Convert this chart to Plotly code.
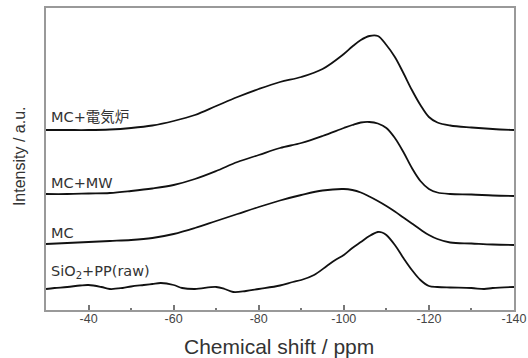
import plotly.graph_objects as go

# Chemical shift grid (ppm) for the three upper spectra
ppm = [-30, -35, -40, -45, -50, -55, -60, -65, -70, -75, -80, -85, -90, -95, -100,
       -102, -104, -106, -108, -110, -112, -114, -116, -118, -120, -122, -125, -130, -135, -140]

# stacked intensities (a.u., offsets included)
mc_furnace = [180, 180, 180, 180.5, 182, 184.5, 189, 195, 204, 213, 221, 228, 233, 241, 256,
              263.5, 270, 274, 274, 265, 253, 237, 220, 205, 193, 187.5, 184.5, 182.5, 181, 180]
mc_mw = [116, 116, 116.5, 117, 119, 121.5, 125, 131, 139, 148, 155, 162, 167, 174, 182,
         185, 187.5, 188, 186.5, 182, 172, 158, 142, 129, 121, 117.5, 116, 115.5, 114.5, 114]
mc = [66, 67, 68, 69, 70, 72, 76, 82, 89, 96, 103, 109.5, 115, 119.5, 121,
      120, 117.5, 113.5, 109, 104, 98.5, 92.5, 86.5, 80.5, 75, 71, 67.5, 66.5, 65.5, 65]

ppm_raw = [-30, -32, -35, -38, -40, -43, -45, -48, -50, -53, -55, -57, -60, -62, -65, -70, -72,
           -74, -77, -80, -85, -88, -90, -93, -96, -98, -100, -102, -104, -106, -108, -109,
           -110, -112, -114, -116, -118, -120, -122, -125, -130, -133, -135, -140]
raw = [21, 22, 23, 24.5, 25, 23, 21, 22, 23.5, 25, 26, 27, 25, 22, 21, 23, 21,
       18, 19, 21, 24.5, 28, 30, 35, 44, 50, 55, 62, 68, 74, 78, 77.5,
       75, 65, 52, 40, 30, 24, 23, 22.5, 22, 21, 22, 23]

labels = ["MC+電気炉", "MC+MW", "MC", "SiO<sub>2</sub>+PP(raw)"]
label_y = [193, 127, 77, 38]

tickvals = [-40, -60, -80, -100, -120, -140]
minor_vals = [-50, -70, -90, -110, -130]

fig = go.Figure()
for xs, ys in [(ppm, mc_furnace), (ppm, mc_mw), (ppm, mc), (ppm_raw, raw)]:
    fig.add_trace(go.Scatter(x=xs, y=ys, mode="lines",
                             line=dict(color="#111111", width=1.8, shape="spline", smoothing=1.0),
                             showlegend=False, hoverinfo="skip"))

for txt, yv in zip(labels, label_y):
    fig.add_annotation(x=-30.6, y=yv, text=txt, showarrow=False, xanchor="left", yanchor="middle",
                       font=dict(family="DejaVu Sans, Noto Sans CJK JP", size=14.5, color="#333333"))

# axis titles
fig.add_annotation(xref="paper", yref="paper", x=0.497, y=-0.1225, text="Chemical shift / ppm",
                   showarrow=False, xanchor="center", yanchor="middle",
                   font=dict(family="Liberation Sans, Arial", size=21, color="#333333"))
fig.add_annotation(xref="paper", yref="paper", x=-0.0566, y=0.508, text="Intensity / a.u.",
                   showarrow=False, xanchor="center", yanchor="middle", textangle=-90,
                   font=dict(family="Liberation Sans, Arial", size=16, color="#333333"))

fig.update_layout(
    width=528, height=358,
    margin=dict(l=46, r=14, t=8, b=48),
    plot_bgcolor="white", paper_bgcolor="white",
    xaxis=dict(range=[-30, -140], tickvals=tickvals, ticktext=[str(v) for v in tickvals],
               ticks="inside", ticklen=5, tickwidth=1.5, tickcolor="#777777",
               minor=dict(tickvals=minor_vals, ticks="inside", ticklen=2,
                          tickwidth=1.5, tickcolor="#777777"),
               showline=True, linecolor="#999999", linewidth=2, mirror=True,
               showgrid=False, zeroline=False, automargin=False, ticklabelstandoff=-4,
               tickfont=dict(family="Liberation Sans, Arial", size=12.5, color="#444444")),
    yaxis=dict(range=[0, 302], showticklabels=False, ticks="",
               showline=True, linecolor="#999999", linewidth=2, mirror=True,
               showgrid=False, zeroline=False, automargin=False),
)

fig.write_html("out.html", config={"displayModeBar": False},
               post_script="document.body.style.margin='0';")
